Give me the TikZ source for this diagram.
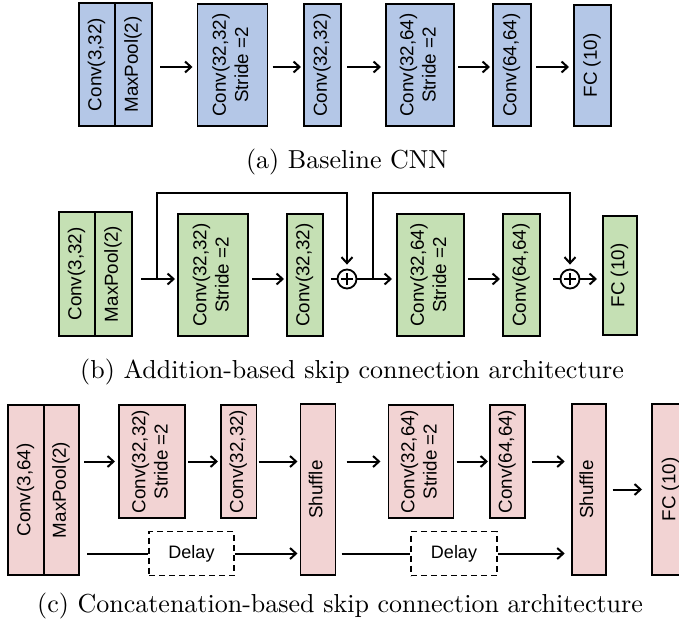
\documentclass[tikz,border=0pt]{standalone}
\usepackage{fontspec}
\usetikzlibrary{arrows.meta}
\newfontfamily\boxfont{Liberation Sans}
\newfontfamily\capfont{lmroman10-regular}[Extension=.otf]
\definecolor{bblue}{HTML}{B4C7E7}
\definecolor{bgreen}{HTML}{C5E0B4}
\definecolor{bpink}{HTML}{F2D3D3}
\newcommand\vt[1]{\rotatebox{90}{\begin{tabular}{@{}c@{}}#1\end{tabular}}}
\begin{document}
\begin{tikzpicture}[x=1pt,y=-1pt,
  blk/.style={draw, line width=1.8pt, inner sep=0pt, outer sep=0pt,
    font=\boxfont\fontsize{18.8}{22.4}\selectfont},
  arr/.style={line width=2pt, -{Straight Barb[length=6pt,width=11pt,line width=2pt]}},
  ln/.style={line width=2pt},
  captxt/.style={font=\capfont\fontsize{26}{30}\selectfont, inner sep=0pt},
  dly/.style={draw, line width=1.8pt, dash pattern=on 6pt off 4pt, inner sep=0pt,
    font=\boxfont\fontsize{18}{21}\selectfont},
  plus/.style={draw, circle, line width=1.8pt, minimum size=19pt, inner sep=0pt, fill=white,
    path picture={\draw[line width=2pt]
      ([xshift=-6pt]path picture bounding box.center) -- ([xshift=6pt]path picture bounding box.center)
      ([yshift=-6pt]path picture bounding box.center) -- ([yshift=6pt]path picture bounding box.center);}}
]
\useasboundingbox (0,0) rectangle (679,626);
\clip (0,0) rectangle (679,626);

% ---------------- Row (a)
\node[blk, fill=bblue, minimum width=36pt, minimum height=123pt] (a1) at (97,64.5) {\vt{Conv(3,32)}};
\node[blk, fill=bblue, minimum width=37pt, minimum height=123pt] (a2) at (133.5,64.5) {\vt{MaxPool(2)}};
\node[blk, fill=bblue, minimum width=70pt, minimum height=122pt] (a3) at (232.5,65) {\vt{Conv(32,32)\\Stride =2}};
\node[blk, fill=bblue, minimum width=37pt, minimum height=122pt] (a4) at (322.5,65) {\vt{Conv(32,32)}};
\node[blk, fill=bblue, minimum width=68pt, minimum height=122pt] (a5) at (420,65) {\vt{Conv(32,64)\\Stride =2}};
\node[blk, fill=bblue, minimum width=38pt, minimum height=122pt] (a6) at (512,65) {\vt{Conv(64,64)}};
\node[blk, fill=bblue, minimum width=37pt, minimum height=121pt] (a7) at (592.5,65.5) {\vt{FC (10)}};
\coordinate (ya) at (0,67);
\draw[arr, shorten <=8pt, shorten >=5pt] (a2.east |- ya) -- (a3.west |- ya);
\draw[arr, shorten <=5pt, shorten >=3pt] (a3.east |- ya) -- (a4.west |- ya);
\draw[arr, shorten <=6pt, shorten >=5pt] (a4.east |- ya) -- (a5.west |- ya);
\draw[arr, shorten <=4pt, shorten >=3pt] (a5.east |- ya) -- (a6.west |- ya);
\draw[arr, shorten <=5pt, shorten >=5pt] (a6.east |- ya) -- (a7.west |- ya);
\node[captxt] (capa) at (347,162) {(a) Baseline CNN};

% ---------------- Row (b)
\node[blk, fill=bgreen, minimum width=36pt, minimum height=124pt] (b1) at (77,274) {\vt{Conv(3,32)}};
\node[blk, fill=bgreen, minimum width=37pt, minimum height=124pt] (b2) at (113.5,274) {\vt{MaxPool(2)}};
\node[blk, fill=bgreen, minimum width=70pt, minimum height=122pt] (b3) at (213,275) {\vt{Conv(32,32)\\Stride =2}};
\node[blk, fill=bgreen, minimum width=36pt, minimum height=122pt] (b4) at (305,275) {\vt{Conv(32,32)}};
\node[plus] (p1) at (347,279) {};
\node[blk, fill=bgreen, minimum width=67pt, minimum height=122pt] (b5) at (430.5,275) {\vt{Conv(32,64)\\Stride =2}};
\node[blk, fill=bgreen, minimum width=37pt, minimum height=122pt] (b6) at (521.5,275) {\vt{Conv(64,64)}};
\node[plus] (p2) at (570,279) {};
\node[blk, fill=bgreen, minimum width=34pt, minimum height=119pt] (b7) at (620,275.5) {\vt{FC (10)}};
\coordinate (k1) at (157,279);
\coordinate (k2) at (373,279);
\coordinate (top) at (0,193);
\draw[arr, shorten <=9pt, shorten >=3pt] (b2.east |- p1) -- (b3.west |- p1);
\draw[arr, shorten <=4pt, shorten >=3pt] (b3.east |- p1) -- (b4.west |- p1);
\draw[ln, shorten <=8pt] (b4.east |- p1) -- (p1.west);
\draw[arr, shorten >=5pt] (p1.east) -- (b5.west |- p1);
\draw[arr, shorten <=4pt, shorten >=3pt] (b5.east |- p2) -- (b6.west |- p2);
\draw[ln, shorten <=13pt] (b6.east |- p2) -- (p2.west);
\draw[arr, shorten >=6pt] (p2.east) -- (b7.west |- p2);
\draw[arr, shorten >=4pt] (k1) |- (top -| p1.north) -- (p1.north);
\draw[arr, shorten >=4pt] (k2) |- (top -| p2.north) -- (p2.north);
\node[captxt] (capb) at (352,372) {(b) Addition-based skip connection architecture};

% ---------------- Row (c)
\node[blk, fill=bpink, minimum width=36pt, minimum height=170pt] (c1) at (26,490) {\vt{Conv(3,64)}};
\node[blk, fill=bpink, minimum width=35pt, minimum height=170pt] (c2) at (61.5,490) {\vt{MaxPool(2)}};
\node[blk, fill=bpink, minimum width=66pt, minimum height=113pt] (c3) at (152,461.5) {\vt{Conv(32,32)\\Stride =2}};
\node[blk, fill=bpink, minimum width=35.5pt, minimum height=113pt] (c4) at (238.75,461.5) {\vt{Conv(32,32)}};
\node[blk, fill=bpink, minimum width=35pt, minimum height=171pt] (s1) at (318,489.5) {\vt{Shuffle}};
\node[blk, fill=bpink, minimum width=65pt, minimum height=113pt] (c5) at (421,461.5) {\vt{Conv(32,64)\\Stride =2}};
\node[blk, fill=bpink, minimum width=35pt, minimum height=113pt] (c6) at (507.5,461.5) {\vt{Conv(64,64)}};
\node[blk, fill=bpink, minimum width=34pt, minimum height=171pt] (s2) at (588.7,489.5) {\vt{Shuffle}};
\node[blk, fill=bpink, minimum width=38pt, minimum height=171pt] (fc) at (671,489.5) {\vt{FC (10)}};
\node[dly] (d1) at (191.5,553.5) [minimum width=85pt, minimum height=44pt] {Delay};
\node[dly] (d2) at (454,553.5) [minimum width=86pt, minimum height=44pt] {Delay};
\draw[arr, shorten <=5pt, shorten >=4pt] (c2.east |- c3.west) -- (c3.west);
\draw[arr, shorten <=3pt, shorten >=3pt] (c3.east) -- (c4.west);
\draw[arr, shorten <=2pt, shorten >=3pt] (c4.east) -- (c4.east -| s1.west);
\draw[arr, shorten <=11pt, shorten >=8pt] (c5.west -| s1.east) -- (c5.west);
\draw[arr, shorten <=3pt, shorten >=2pt] (c5.east) -- (c6.west);
\draw[arr, shorten <=7pt, shorten >=7pt] (c6.east) -- (c6.east -| s2.west);
\draw[arr, shorten <=7pt, shorten >=10pt] (s2.east) -- (s2.east -| fc.west);
\draw[ln, shorten <=8pt] (c2.east |- d1.west) -- (d1.west);
\draw[arr, shorten >=3pt] (d1.east) -- (d1.east -| s1.west);
\draw[ln, shorten <=6pt] (s1.east |- d2.west) -- (d2.west);
\draw[arr, shorten >=7pt] (d2.east) -- (d2.east -| s2.west);
\node[captxt] (capc) at (340,606) {(c) Concatenation-based skip connection architecture};
\end{tikzpicture}
\end{document}
